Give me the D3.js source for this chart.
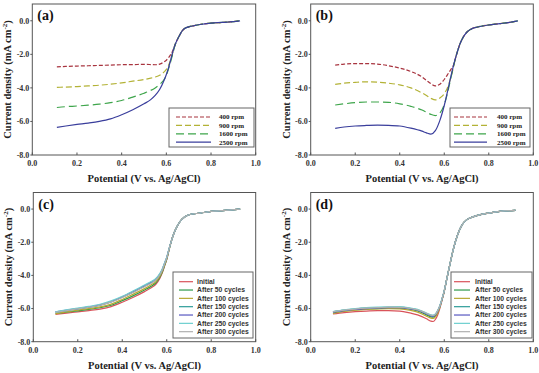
<!DOCTYPE html>
<html>
<head>
<meta charset="utf-8">
<script src="https://cdn.jsdelivr.net/npm/d3@7"></script>
<style>
  body { margin: 0; background: #fff; }
  svg { display: block; }
  .tick-text { font-family: "Liberation Serif", "Times New Roman", serif; font-weight: bold; font-size: 8px; fill: #333; }
  .axis-title { font-family: "Liberation Serif", "Times New Roman", serif; font-weight: bold; font-size: 10.5px; fill: #222; }
  .panel-label { font-family: "Liberation Serif", "Times New Roman", serif; font-weight: bold; font-size: 14px; fill: #111; }
  .leg-serif { font-family: "Liberation Serif", "Times New Roman", serif; font-weight: bold; font-size: 7px; fill: #222; }
  .leg-sans { font-family: "Liberation Sans", Arial, sans-serif; font-weight: bold; font-size: 6.8px; fill: #333; }
</style>
</head>
<body>
<svg id="chart" width="539" height="373"></svg>
<script>
// ---- data ----
const xTicks = [0.0, 0.2, 0.4, 0.6, 0.8, 1.0];
const yTicks = [0.0, -2.0, -4.0, -6.0, -8.0];

const rpmNames = ["400 rpm", "900 rpm", "1600 rpm", "2500 rpm"];
const cycleNames = ["Initial", "After 50 cycles", "After 100 cycles", "After 150 cycles",
                    "After 200 cycles", "After 250 cycles", "After 300 cycles"];

// panel (a)
const xA = [0.11, 0.15, 0.2, 0.25, 0.3, 0.35, 0.4, 0.45, 0.5, 0.53, 0.55, 0.57, 0.59, 0.6, 0.61, 0.62, 0.63];
const xATail = [0.64, 0.65, 0.66, 0.67, 0.68, 0.7, 0.72, 0.75, 0.8, 0.85, 0.9, 0.93];
const tailA = [-1.4, -1.1, -0.85, -0.62, -0.48, -0.36, -0.3, -0.22, -0.14, -0.1, -0.05, 0.0];
const a400 = [-2.75, -2.72, -2.7, -2.68, -2.66, -2.64, -2.62, -2.61, -2.6, -2.61, -2.62, -2.58, -2.45, -2.35, -2.2, -2.0, -1.75];
const a900 = [-3.97, -3.95, -3.92, -3.88, -3.84, -3.78, -3.7, -3.6, -3.5, -3.42, -3.35, -3.25, -3.05, -2.9, -2.65, -2.3, -1.85];
const a1600 = [-5.17, -5.12, -5.08, -5.03, -4.97, -4.88, -4.75, -4.55, -4.32, -4.15, -4.0, -3.8, -3.5, -3.25, -2.85, -2.4, -1.9];
const a2500 = [-6.35, -6.27, -6.18, -6.1, -6.0, -5.85, -5.6, -5.3, -4.95, -4.7, -4.45, -4.1, -3.55, -3.2, -2.8, -2.3, -1.8];

// panel (b)
const xB = [0.11, 0.15, 0.2, 0.25, 0.3, 0.35, 0.4, 0.45, 0.5, 0.52, 0.54, 0.56, 0.58, 0.6, 0.62, 0.63, 0.64];
const xBTail = [0.65, 0.66, 0.67, 0.68, 0.7, 0.72, 0.75, 0.8, 0.85, 0.9, 0.93];
const tailB = [-2.25, -1.8, -1.4, -1.1, -0.7, -0.5, -0.37, -0.25, -0.17, -0.08, 0.0];
const b400 = [-2.64, -2.58, -2.55, -2.55, -2.58, -2.68, -2.82, -3.02, -3.35, -3.55, -3.75, -3.88, -3.78, -3.5, -3.1, -2.9, -2.7];
const b900 = [-3.79, -3.72, -3.67, -3.64, -3.66, -3.72, -3.82, -4.0, -4.3, -4.45, -4.62, -4.72, -4.6, -4.35, -3.8, -3.35, -2.85];
const b1600 = [-5.02, -4.95, -4.88, -4.84, -4.84, -4.86, -4.95, -5.1, -5.32, -5.45, -5.58, -5.65, -5.5, -5.0, -4.0, -3.4, -2.8];
const b2500 = [-6.41, -6.33, -6.27, -6.24, -6.22, -6.23, -6.27, -6.4, -6.58, -6.68, -6.75, -6.55, -5.95, -5.05, -3.9, -3.3, -2.75];

// panel (c)
const xC = [0.10, 0.15, 0.2, 0.25, 0.3, 0.35, 0.4, 0.45, 0.5, 0.53, 0.55, 0.57, 0.58, 0.59, 0.6, 0.61];
const xCTail = [0.62, 0.63, 0.64, 0.66, 0.68, 0.7, 0.75, 0.8, 0.85, 0.93];
const tailC = [-1.96, -1.55, -1.22, -0.75, -0.48, -0.34, -0.24, -0.14, -0.09, 0.0];
const c0 = [-6.35, -6.28, -6.2, -6.12, -6.03, -5.88, -5.62, -5.32, -4.98, -4.75, -4.55, -4.15, -3.85, -3.45, -3.05, -2.5];
const c50 = [-6.3, -6.22, -6.14, -6.05, -5.95, -5.8, -5.52, -5.22, -4.88, -4.65, -4.46, -4.08, -3.8, -3.41, -3.02, -2.48];
const c100 = [-6.32, -6.2, -6.1, -6.0, -5.9, -5.73, -5.45, -5.13, -4.8, -4.57, -4.39, -4.02, -3.75, -3.37, -2.99, -2.46];
const c150 = [-6.22, -6.12, -6.02, -5.92, -5.8, -5.6, -5.32, -5.0, -4.66, -4.45, -4.27, -3.93, -3.66, -3.3, -2.93, -2.43];
const c200 = [-6.2, -6.1, -6.0, -5.9, -5.78, -5.58, -5.3, -4.97, -4.63, -4.42, -4.24, -3.9, -3.64, -3.28, -2.92, -2.42];
const c250 = [-6.2, -6.08, -5.98, -5.87, -5.74, -5.54, -5.26, -4.93, -4.58, -4.37, -4.2, -3.86, -3.6, -3.25, -2.9, -2.41];
const c300 = [-6.23, -6.12, -6.02, -5.92, -5.8, -5.6, -5.33, -5.02, -4.68, -4.47, -4.29, -3.95, -3.68, -3.31, -2.94, -2.43];

// panel (d)
const xD = [0.10, 0.15, 0.2, 0.25, 0.3, 0.35, 0.4, 0.45, 0.48, 0.5, 0.52, 0.54, 0.55, 0.56, 0.57, 0.58, 0.59, 0.6];
const xDTail = [0.61, 0.62, 0.63, 0.64, 0.66, 0.68, 0.7, 0.75, 0.8, 0.85, 0.92];
const tailD = [-4.3, -3.67, -3.05, -2.46, -1.55, -0.95, -0.65, -0.38, -0.24, -0.14, -0.08];
const d0 = [-6.33, -6.25, -6.19, -6.15, -6.13, -6.13, -6.15, -6.28, -6.38, -6.49, -6.62, -6.76, -6.78, -6.66, -6.4, -6.0, -5.5, -4.98];
const d50 = [-6.27, -6.15, -6.08, -6.03, -6.0, -5.98, -5.98, -6.05, -6.15, -6.25, -6.38, -6.5, -6.52, -6.45, -6.22, -5.9, -5.45, -4.95];
const d100 = [-6.3, -6.18, -6.1, -6.05, -6.02, -6.0, -6.02, -6.12, -6.22, -6.33, -6.46, -6.58, -6.6, -6.5, -6.28, -5.93, -5.47, -4.96];
const d150 = [-6.2, -6.1, -6.03, -5.98, -5.95, -5.93, -5.92, -6.0, -6.08, -6.18, -6.3, -6.42, -6.43, -6.35, -6.15, -5.85, -5.42, -4.93];
const d200 = [-6.22, -6.12, -6.05, -6.0, -5.96, -5.94, -5.94, -6.02, -6.1, -6.2, -6.32, -6.44, -6.46, -6.38, -6.17, -5.86, -5.43, -4.94];
const d250 = [-6.18, -6.08, -6.0, -5.95, -5.92, -5.9, -5.9, -5.97, -6.05, -6.15, -6.27, -6.38, -6.4, -6.33, -6.12, -5.83, -5.4, -4.92];
const d300 = [-6.2, -6.1, -6.03, -5.98, -5.95, -5.92, -5.93, -6.0, -6.08, -6.17, -6.29, -6.4, -6.42, -6.35, -6.14, -5.85, -5.42, -4.93];

// ---- styles ----
const rpmColors = ["#a8343f", "#b3b236", "#3ea54b", "#3a3e9c"];
const rpmDash = ["4,2", "6,3", "8,4", null];
const cycleColors = ["#d9535a", "#2f9a4a", "#b8a832", "#2c9c98", "#5858c0", "#6ccfcf", "#b0b0b0"];

function toPoints(xs, ys, xt, yt) {
    return xs.concat(xt).map((x, i) => [x, ys.concat(yt)[i]]);
}

function drawPanel(svg, cfg) {
    const x = d3.scaleLinear().domain([0, 1]).range([cfg.x0, cfg.x1]);
    const y = d3.scaleLinear().domain([-8, 1]).range([cfg.yBot, cfg.yTop]);
    const g = svg.append("g");

    // frame
    g.append("rect")
        .attr("x", cfg.x0).attr("y", cfg.yTop)
        .attr("width", cfg.x1 - cfg.x0).attr("height", cfg.yBot - cfg.yTop)
        .attr("fill", "none").attr("stroke", "#555").attr("stroke-width", 1);

    // x ticks
    g.selectAll(".xt").data(xTicks).enter().append("line")
        .attr("x1", d => x(d)).attr("x2", d => x(d))
        .attr("y1", cfg.yBot).attr("y2", cfg.yBot - 2.5)
        .attr("stroke", "#555");
    g.selectAll(".xl").data(xTicks).enter().append("text")
        .attr("class", "tick-text")
        .attr("x", d => x(d)).attr("y", cfg.yBot + 11)
        .attr("text-anchor", "middle")
        .text(d => d.toFixed(1));

    // y ticks
    g.selectAll(".yt").data(yTicks).enter().append("line")
        .attr("x1", cfg.x0 - 2).attr("x2", cfg.x0)
        .attr("y1", d => y(d)).attr("y2", d => y(d))
        .attr("stroke", "#555");
    g.selectAll(".yl").data(yTicks).enter().append("text")
        .attr("class", "tick-text")
        .attr("x", cfg.x0 - 3).attr("y", d => y(d))
        .attr("dy", "0.35em")
        .attr("text-anchor", "end")
        .text(d => d.toFixed(1));

    // axis titles
    g.append("text")
        .attr("class", "axis-title")
        .attr("x", (cfg.x0 + cfg.x1) / 2).attr("y", cfg.yBot + 27)
        .attr("text-anchor", "middle")
        .text("Potential (V vs. Ag/AgCl)");
    const yt = g.append("text")
        .attr("class", "axis-title")
        .attr("transform", `translate(${cfg.x0 - 21},${(cfg.yTop + cfg.yBot) / 2}) rotate(-90)`)
        .attr("text-anchor", "middle");
    yt.append("tspan").text("Current density (mA cm");
    yt.append("tspan").attr("dy", -4).attr("font-size", "7px").text("-2");
    yt.append("tspan").attr("dy", 4).text(")");

    // panel label
    g.append("text")
        .attr("class", "panel-label")
        .attr("x", cfg.x0 + 5).attr("y", cfg.yTop + 16)
        .text(cfg.label);

    // curves
    const line = d3.line()
        .x(d => x(d[0])).y(d => y(d[1]))
        .curve(d3.curveMonotoneX);
    cfg.series.forEach((s, i) => {
        g.append("path")
            .datum(toPoints(cfg.xs, s, cfg.xTail, cfg.tail))
            .attr("fill", "none")
            .attr("stroke", cfg.colors[i])
            .attr("stroke-width", 1.2)
            .attr("stroke-dasharray", cfg.dash ? cfg.dash[i] : null)
            .attr("d", line);
    });

    // legend
    const L = cfg.legend;
    const lg = g.append("g");
    lg.append("rect")
        .attr("x", L.x).attr("y", L.y).attr("width", L.w).attr("height", L.h)
        .attr("fill", "#fff").attr("stroke", "#666").attr("stroke-width", 1);
    cfg.names.forEach((name, i) => {
        const ry = L.row0 + i * L.step;
        lg.append("line")
            .attr("x1", L.x + L.l1).attr("x2", L.x + L.l2)
            .attr("y1", ry).attr("y2", ry)
            .attr("stroke", cfg.colors[i]).attr("stroke-width", 1.2)
            .attr("stroke-dasharray", cfg.dash ? cfg.dash[i] : null);
        lg.append("text")
            .attr("class", L.cls)
            .attr("x", L.x + L.tx).attr("y", ry)
            .attr("dy", "0.35em")
            .text(name);
    });
}

const svg = d3.select("#chart");

drawPanel(svg, {
    label: "(a)", x0: 32.3, x1: 255.7, yTop: 4, yBot: 155,
    xs: xA, xTail: xATail, tail: tailA,
    series: [a400, a900, a1600, a2500], names: rpmNames,
    colors: rpmColors, dash: rpmDash,
    legend: {x: 169, y: 108, w: 85, h: 39, row0: 117, step: 8.4, l1: 7, l2: 42, tx: 50, cls: "leg-serif"}
});
drawPanel(svg, {
    label: "(b)", x0: 310.7, x1: 533.3, yTop: 4, yBot: 155,
    xs: xB, xTail: xBTail, tail: tailB,
    series: [b400, b900, b1600, b2500], names: rpmNames,
    colors: rpmColors, dash: rpmDash,
    legend: {x: 450, y: 108, w: 80, h: 39, row0: 117, step: 8.4, l1: 4, l2: 37, tx: 47, cls: "leg-serif"}
});
drawPanel(svg, {
    label: "(c)", x0: 33.3, x1: 255.7, yTop: 192.5, yBot: 341.7,
    xs: xC, xTail: xCTail, tail: tailC,
    series: [c0, c50, c100, c150, c200, c250, c300], names: cycleNames,
    colors: cycleColors, dash: null,
    legend: {x: 173, y: 272, w: 80, h: 66, row0: 281.7, step: 8.33, l1: 6, l2: 20, tx: 24, cls: "leg-sans"}
});
drawPanel(svg, {
    label: "(d)", x0: 310.7, x1: 533.3, yTop: 192.5, yBot: 341.7,
    xs: xD, xTail: xDTail, tail: tailD,
    series: [d0, d50, d100, d150, d200, d250, d300], names: cycleNames,
    colors: cycleColors, dash: null,
    legend: {x: 451, y: 272, w: 81, h: 66, row0: 281.7, step: 8.33, l1: 3, l2: 19, tx: 24, cls: "leg-sans"}
});
</script>
</body>
</html>
